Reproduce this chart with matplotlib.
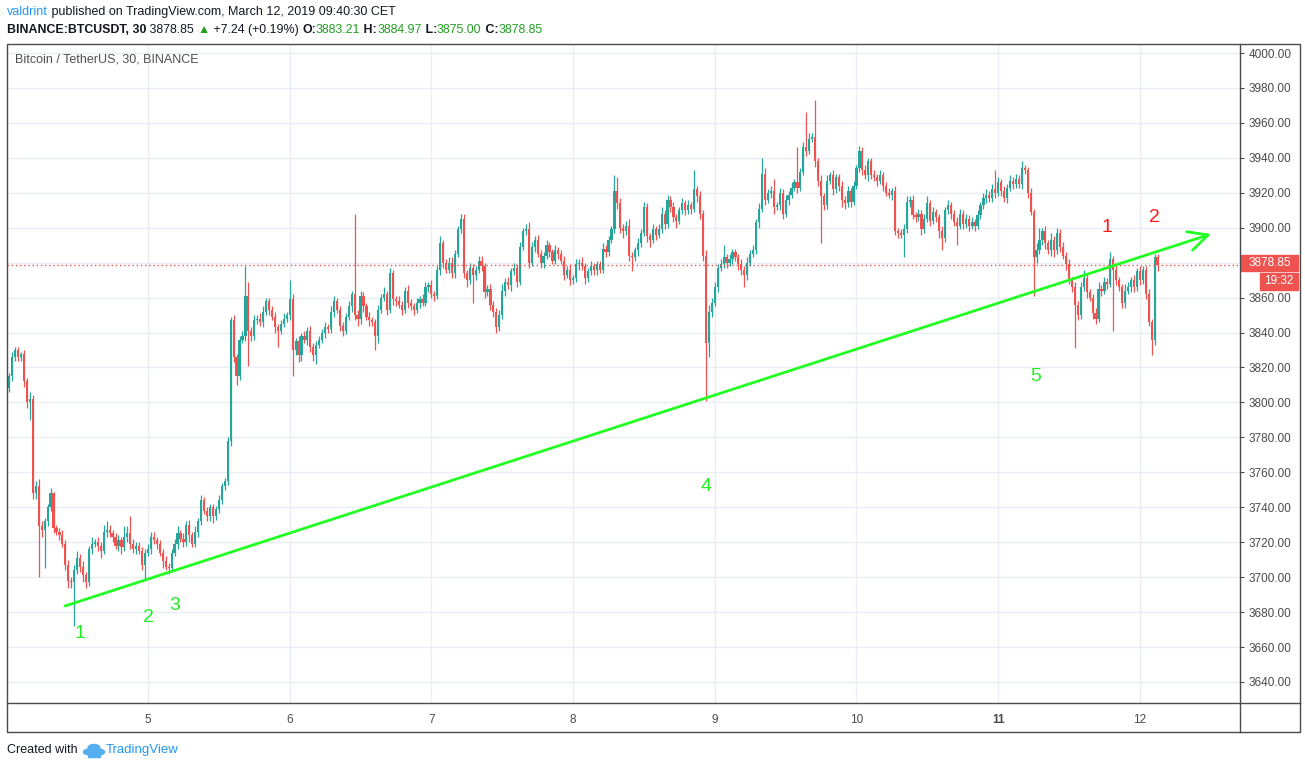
import numpy as np
import matplotlib
matplotlib.use("Agg")
import matplotlib.pyplot as plt
from matplotlib.patches import Rectangle, Circle
from matplotlib.lines import Line2D

# ---- data (BTC/USDT, 30 min candles, 4 Mar 00:00 -> 12 Mar 03:00) ----
first_open = 3793
closes = [
    3808, 3815, 3826, 3830, 3826, 3828, 3812, 3800, 3802, 3748,
    3752, 3729, 3727, 3732, 3740, 3748, 3728, 3726, 3724, 3719,
    3707, 3698, 3697, 3704, 3711, 3706, 3701, 3697, 3716, 3719,
    3720, 3718, 3715, 3726, 3727, 3725, 3723, 3718, 3721, 3717,
    3723, 3725, 3719, 3716, 3718, 3715, 3707, 3714, 3716, 3723,
    3721, 3719, 3714, 3709, 3706, 3705, 3714, 3719, 3725, 3722,
    3720, 3730, 3724, 3719, 3726, 3732, 3744, 3738, 3735, 3740,
    3735, 3739, 3744, 3752, 3755, 3778, 3847, 3826, 3815, 3836,
    3838, 3861, 3841, 3838, 3847, 3848, 3846, 3852, 3858, 3853,
    3849, 3843, 3841, 3845, 3848, 3850, 3859, 3830, 3835, 3827,
    3838, 3836, 3841, 3832, 3827, 3833, 3836, 3840, 3843, 3842,
    3852, 3858, 3853, 3844, 3841, 3849, 3855, 3862, 3850, 3848,
    3861, 3855, 3849, 3847, 3846, 3838, 3853, 3860, 3862, 3853,
    3874, 3859, 3858, 3856, 3853, 3864, 3857, 3855, 3853, 3857,
    3859, 3857, 3866, 3867, 3862, 3861, 3876, 3891, 3880, 3876,
    3880, 3874, 3885, 3899, 3905, 3874, 3870, 3877, 3873, 3876,
    3881, 3878, 3863, 3865, 3856, 3852, 3843, 3850, 3864, 3869,
    3867, 3875, 3877, 3869, 3889, 3898, 3899, 3880, 3889, 3893,
    3885, 3880, 3884, 3890, 3886, 3881, 3887, 3885, 3881, 3873,
    3876, 3870, 3871, 3879, 3880, 3878, 3871, 3875, 3878, 3876,
    3879, 3876, 3888, 3886, 3893, 3899, 3921, 3914, 3900, 3898,
    3901, 3884, 3883, 3887, 3891, 3897, 3912, 3895, 3893, 3899,
    3896, 3899, 3908, 3902, 3916, 3912, 3906, 3904, 3910, 3914,
    3910, 3913, 3911, 3922, 3918, 3908, 3884, 3834, 3852, 3857,
    3866, 3877, 3879, 3883, 3880, 3882, 3886, 3883, 3879, 3876,
    3873, 3880, 3885, 3887, 3903, 3911, 3931, 3916, 3920, 3921,
    3912, 3913, 3920, 3908, 3916, 3919, 3923, 3926, 3923, 3932,
    3946, 3944, 3951, 3952, 3938, 3927, 3918, 3913, 3927, 3930,
    3922, 3929, 3924, 3916, 3914, 3921, 3915, 3924, 3934, 3944,
    3933, 3930, 3938, 3930, 3929, 3927, 3930, 3924, 3920, 3919,
    3921, 3898, 3897, 3896, 3899, 3915, 3916, 3907, 3906, 3908,
    3899, 3905, 3914, 3904, 3909, 3906, 3898, 3894, 3910, 3913,
    3908, 3903, 3901, 3908, 3902, 3905, 3901, 3903, 3901, 3907,
    3913, 3917, 3919, 3917, 3922, 3920, 3926, 3921, 3917, 3923,
    3927, 3925, 3928, 3925, 3934, 3933, 3920, 3909, 3883, 3887,
    3893, 3898, 3891, 3887, 3893, 3887, 3897, 3889, 3884, 3879,
    3870, 3866, 3856, 3850, 3866, 3871, 3863, 3860, 3851, 3848,
    3865, 3864, 3869, 3868, 3882, 3876, 3870, 3866, 3857, 3864,
    3866, 3870, 3866, 3875, 3870, 3876, 3862, 3846, 3836, 3883.21,
    3878.85,
]
# wick lengths above / below the body
upper_wick = [
    3, 2, 3, 2, 2, 1, 2, 2, 4, 2,   3, 4, 3, 2, 2, 3, 1, 2, 2, 3,
    2, 3, 2, 3, 4, 2, 3, 2, 2, 4,   2, 3, 2, 4, 5, 3, 2, 2, 3, 2,
    6, 4, 10, 3, 2, 2, 2, 2, 3, 3,  3, 2, 2, 2, 3, 2, 2, 3, 4, 2,
    3, 2, 3, 2, 3, 2, 3, 2, 2, 2,   2, 2, 3, 2, 2, 2, 2, 3, 2, 2,
    3, 17, 8, 2, 3, 2, 3, 3, 2, 2,  2, 3, 2, 2, 3, 2, 11, 3, 2, 3,
    2, 3, 2, 3, 2, 2, 2, 2, 3, 2,   3, 3, 2, 2, 2, 2, 3, 2, 46, 3,
    3, 2, 2, 3, 2, 2, 3, 2, 4, 2,   3, 2, 2, 3, 2, 2, 3, 2, 2, 3,
    2, 3, 3, 2, 3, 2, 2, 4, 2, 2,   3, 3, 2, 2, 3, 3, 2, 3, 2, 2,
    3, 3, 2, 2, 3, 2, 2, 3, 4, 2,   3, 2, 3, 2, 3, 2, 3, 4, 3, 2,
    3, 2, 2, 3, 2, 2, 3, 2, 2, 3,   2, 3, 2, 3, 2, 3, 2, 2, 3, 2,
    2, 2, 3, 2, 2, 2, 9, 8, 3, 2,   3, 4, 2, 2, 3, 2, 3, 2, 2, 3,
    2, 3, 4, 2, 3, 2, 3, 2, 2, 3,   2, 3, 2, 11, 2, 3, 2, 3, 4, 3,
    3, 2, 3, 7, 2, 3, 2, 2, 2, 3,   2, 3, 2, 3, 2, 3, 9, 3, 2, 3,
    7, 2, 3, 2, 3, 2, 3, 2, 20, 2,  3, 20, 3, 2, 21, 2, 3, 2, 3, 2,
    3, 2, 2, 3, 2, 3, 2, 3, 2, 3,   2, 3, 2, 2, 3, 2, 3, 2, 2, 3,
    2, 3, 2, 2, 3, 3, 2, 3, 2, 3,   2, 3, 4, 2, 3, 2, 2, 3, 2, 3,
    2, 2, 3, 3, 2, 3, 2, 3, 2, 3,   2, 3, 3, 2, 3, 11, 3, 2, 3, 2,
    3, 2, 3, 2, 4, 2, 2, 3, 2, 4,   7, 2, 3, 2, 4, 2, 3, 2, 3, 2,
    3, 2, 3, 2, 3, 5, 3, 2, 2, 3,   4, 2, 3, 2, 4, 2, 3, 2, 2, 4,
    3, 2, 3, 2, 3, 2, 2, 3, 2, 1.76,
    1.76,
]
lower_wick = [
    3, 2, 3, 2, 2, 2, 3, 3, 10, 3,  3, 29, 4, 22, 3, 2, 3, 2, 3, 2,
    3, 4, 3, 25, 2, 3, 4, 3, 2, 3,  2, 3, 4, 2, 3, 2, 3, 2, 3, 4,
    2, 3, 3, 2, 3, 2, 3, 9, 2, 3,   2, 3, 2, 4, 2, 3, 2, 2, 3, 2,
    3, 2, 4, 2, 2, 3, 2, 2, 3, 3,   4, 2, 2, 2, 2, 2, 3, 3, 5, 2,
    2, 3, 20, 3, 2, 2, 2, 3, 2, 3,  2, 3, 9, 2, 2, 2, 3, 15, 3, 4,
    3, 2, 3, 3, 3, 5, 2, 2, 3, 2,   2, 3, 2, 3, 3, 2, 2, 3, 3, 4,
    3, 3, 2, 3, 2, 8, 4, 2, 2, 3,   2, 3, 3, 2, 3, 2, 3, 2, 3, 2,
    3, 2, 2, 3, 2, 3, 2, 3, 3, 2,   2, 3, 3, 2, 2, 3, 4, 2, 16, 3,
    2, 3, 3, 2, 3, 3, 3, 2, 2, 3,   2, 3, 2, 3, 2, 2, 2, 3, 2, 3,
    2, 3, 3, 2, 3, 2, 2, 3, 2, 3,   2, 3, 2, 2, 3, 2, 3, 2, 2, 3,
    3, 2, 2, 3, 2, 2, 2, 3, 3, 4,   2, 3, 8, 2, 3, 2, 2, 3, 4, 2,
    3, 2, 2, 3, 2, 3, 3, 4, 2, 2,   3, 2, 3, 2, 3, 3, 3, 33, 8, 3,
    2, 3, 2, 2, 3, 2, 3, 2, 3, 3,   7, 3, 2, 2, 2, 3, 2, 3, 2, 3,
    4, 2, 3, 3, 2, 3, 2, 2, 3, 2,   2, 3, 2, 2, 3, 3, 27, 3, 2, 2,
    3, 2, 3, 4, 3, 2, 3, 2, 2, 2,   3, 2, 3, 2, 2, 3, 2, 3, 2, 2,
    3, 2, 3, 2, 13, 2, 3, 2, 3, 2,  3, 2, 2, 3, 2, 3, 4, 7, 2, 2,
    3, 2, 11, 2, 3, 2, 3, 2, 3, 2,  2, 2, 3, 2, 2, 3, 2, 3, 2, 3,
    2, 3, 2, 2, 3, 2, 3, 2, 22, 3,  2, 3, 3, 2, 3, 4, 2, 3, 2, 3,
    2, 3, 25, 3, 2, 2, 3, 2, 3, 3,  2, 3, 2, 3, 2, 35, 3, 2, 3, 3,
    2, 3, 3, 2, 3, 2, 3, 2, 9, 3,
    3.85,
]
day_labels = ["5", "6", "7", "8", "9", "10", "11", "12"]
candles_per_day = 48
price_ticks = list(range(3640, 4001, 20))
last_price = 3878.85

# trend line and wave labels (candle index, price)
trend_start = (19.9, 3683.5)
trend_end = (408.1, 3896.4)
green_labels = [("1", 25.0, 3668), ("2", 48.0, 3677), ("3", 57.1, 3683.5),
                ("4", 237.0, 3752), ("5", 348.8, 3814.6)]
red_labels = [("1", 372.9, 3900), ("2", 389.1, 3905.6)]

# ---- figure ----
W, H = 1305, 768
fig = plt.figure(figsize=(W / 100, H / 100), dpi=100)
fig.patch.set_facecolor("white")
plt.rcParams["font.family"] = ["Liberation Sans", "DejaVu Sans"]


def fx(px):
    return px / W


def fy(py):
    return 1 - py / H


L, R, T, B = 7, 1240, 44, 703
ax = fig.add_axes([fx(L), fy(B), fx(R - L), (B - T) / H])
x_per = 2.952
x0 = 6.3
ax.set_xlim((L - x0) / x_per, (R - x0) / x_per)
ax.set_ylim(4000 - (B - 53) / 1.7472, 4000 + (53 - T) / 1.7472)

closes_a = np.array(closes, dtype=float)
opens_a = np.concatenate([[first_open], closes_a[:-1]])
idx = np.arange(len(closes_a))
body_top = np.maximum(opens_a, closes_a)
body_bot = np.minimum(opens_a, closes_a)
highs = body_top + np.array(upper_wick)
lows = body_bot - np.array(lower_wick)
up = closes_a >= opens_a
colors = np.where(up, "#26a69a", "#ef5350")

# grid
for p in price_ticks:
    ax.axhline(p, color="#e9eef4", lw=1, zorder=0)
for k in range(1, len(day_labels) + 1):
    ax.axvline(k * candles_per_day, color="#e9eef4", lw=1, zorder=0)

ax.vlines(idx, lows, highs, colors=colors, lw=0.9, zorder=2)
ax.bar(idx, np.maximum(body_top - body_bot, 0.7), bottom=body_bot,
       width=0.74, color=colors, linewidth=0, zorder=3)

ax.axhline(last_price, color="#ef5350", lw=1, ls=(0, (1, 2)), zorder=4)

# trend line with arrow
ax.annotate("", xy=trend_end, xytext=trend_start,
            arrowprops=dict(arrowstyle="->,head_length=0.7,head_width=0.35",
                            color="#22ff22", lw=2, shrinkA=0, shrinkB=0,
                            mutation_scale=20), zorder=5)
for t, xi, yp in green_labels:
    ax.text(xi, yp, t, color="#22ee22", fontsize=14, ha="center", va="center",
            zorder=6)
for t, xi, yp in red_labels:
    ax.text(xi, yp, t, color="#ff1a1a", fontsize=14, ha="center", va="center",
            zorder=6)

# axes styling
for s in ax.spines.values():
    s.set_visible(False)
ax.yaxis.tick_right()
ax.set_yticks(price_ticks)
# 3880 label sits under the last price tag
ax.set_yticklabels(["" if p == 3880 else f"{p:.2f}" for p in price_ticks])
ax.tick_params(axis="y", colors="#4a4a4a", labelsize=8.5, length=3,
               width=0.8, pad=3.5)
ax.set_xticks([k * candles_per_day for k in range(1, len(day_labels) + 1)])
ax.set_xticklabels(day_labels)
ax.tick_params(axis="x", colors="#4a4a4a", labelsize=8.5, length=0, pad=8)
for lab in ax.get_xticklabels():
    if lab.get_text() == "11":
        lab.set_fontweight("bold")

fig.text(fx(15), fy(60), "Bitcoin / TetherUS, 30, BINANCE", color="#4f4f4f",
         fontsize=9, ha="left", va="center")

# frame lines
frame_col = "#4a4a4a"
fig.add_artist(Rectangle((fx(7), fy(732)), fx(1300 - 7), (732 - 44) / H,
                         fill=False, edgecolor=frame_col, lw=1,
                         transform=fig.transFigure))
fig.add_artist(Line2D([fx(R), fx(R)], [fy(44), fy(732)], color=frame_col,
                      lw=1, transform=fig.transFigure))
fig.add_artist(Line2D([fx(7), fx(1300)], [fy(B), fy(B)], color=frame_col,
                      lw=1, transform=fig.transFigure))

# current price tags
fig.add_artist(Rectangle((fx(1241), fy(271)), fx(57), 16 / H,
                         color="#ef5350", transform=fig.transFigure))
fig.text(fx(1270), fy(263), "3878.85", color="white", fontsize=8.5,
         ha="center", va="center")
fig.add_artist(Rectangle((fx(1260), fy(290)), fx(38), 17 / H,
                         color="#ef5350", transform=fig.transFigure))
fig.text(fx(1279), fy(281.5), "19:32", color="white", fontsize=8.5,
         ha="center", va="center")

# header
renderer = fig.canvas.get_renderer()


def draw_runs(x_px, y_px, runs, size):
    x = x_px
    for txt, col, wt in runs:
        t = fig.text(fx(x), fy(y_px), txt, color=col, fontsize=size,
                     fontweight=wt, ha="left", va="center")
        x += t.get_window_extent(renderer).width


draw_runs(7, 12, [("valdrint", "#2196f3", "normal"),
                  (" published on TradingView.com, March 12, 2019 09:40:30 CET",
                   "#131722", "normal")], 9)
g = "#22a022"
draw_runs(7, 30, [("BINANCE:BTCUSDT, 30", "#131722", "bold"),
                  (" 3878.85 ", "#131722", "normal"),
                  ("\u25b2", g, "normal"),
                  (" +7.24 (+0.19%) ", "#131722", "normal"),
                  ("O:", "#131722", "bold"), ("3883.21", g, "normal"),
                  (" H:", "#131722", "bold"), ("3884.97", g, "normal"),
                  (" L:", "#131722", "bold"), ("3875.00", g, "normal"),
                  (" C:", "#131722", "bold"), ("3878.85", g, "normal")], 8.9)

# footer
fig.text(fx(7), fy(750), "Created with", color="#131722", fontsize=9,
         ha="left", va="center")
for cx, cy, r in [(88, 752, 4.5), (94, 748, 6), (100, 752, 4.5)]:
    fig.add_artist(Circle((fx(cx), fy(cy)), r / W, color="#55aef0",
                          transform=fig.transFigure))
fig.add_artist(Rectangle((fx(88), fy(756.5)), fx(12), 4.5 / H,
                         color="#55aef0", transform=fig.transFigure))
fig.text(fx(106), fy(750), "TradingView", color="#2196f3", fontsize=9.5,
         ha="left", va="center")

fig.savefig("out.png", dpi=100, facecolor="white")
